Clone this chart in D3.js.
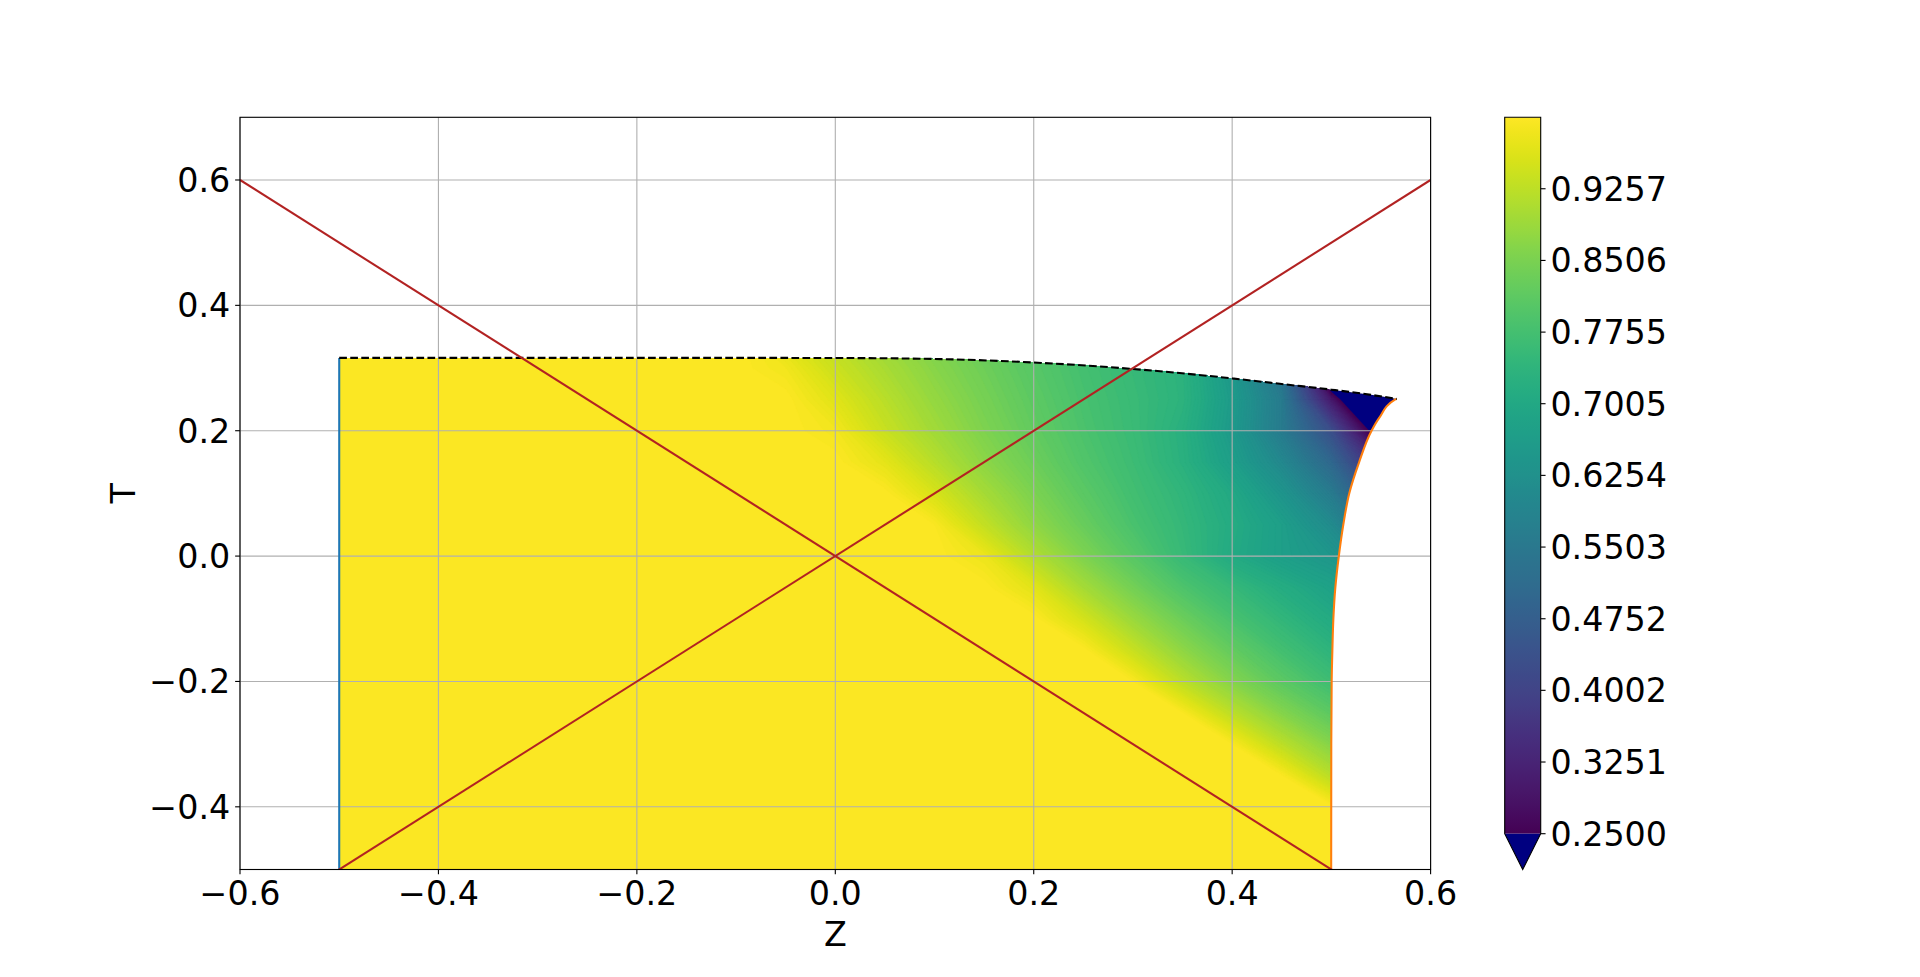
<!DOCTYPE html>
<html><head><meta charset="utf-8">
<script src="https://cdn.jsdelivr.net/npm/d3@7"></script>
<style>body{margin:0;background:#fff;} svg{display:block;} text{font-family:"DejaVu Sans";fill:#000;}</style>
</head><body><svg id="c" width="1920" height="977"></svg>
<script>
// ---------------- data ----------------
const xTicks = [-0.6, -0.4, -0.2, 0.0, 0.2, 0.4, 0.6];
const yTicks = [-0.4, -0.2, 0.0, 0.2, 0.4, 0.6];
const cbTicks = [0.2500, 0.3251, 0.4002, 0.4752, 0.5503, 0.6254, 0.7005, 0.7755, 0.8506, 0.9257];
const cbRange = [0.25, 1.00055];
const xDomain = [-0.6, 0.6];
const yDomain = [-0.5, 0.7];

// left boundary (blue)
const leftZ = [-0.5, -0.5];
const leftT = [-0.5, 0.3162];
// top boundary (black dashed)
const topZ = [-0.5, -0.3, -0.1, 0.0, 0.1, 0.2, 0.3, 0.4, 0.45, 0.5, 0.54, 0.5658];
const topT = [0.3162, 0.3162, 0.3162, 0.3160, 0.3145, 0.3088, 0.2985, 0.2835, 0.2745, 0.2655, 0.2572, 0.2506];
// right boundary (orange), bottom to top
const rightT = [-0.5, -0.3, -0.2, -0.15, -0.1, -0.05, 0.0, 0.05, 0.1, 0.15, 0.2, 0.22, 0.25, 0.2506];
const rightZ = [0.4998, 0.4999, 0.5003, 0.501, 0.502, 0.504, 0.5075, 0.512, 0.518, 0.528, 0.5405, 0.548, 0.5645, 0.5658];
// red reference lines T = -Z and T = Z
const lineA = [[-0.6, 0.6], [0.6, -0.6]];
const lineB = [[-0.6, -0.6], [0.6, 0.6]];

// sampled field (rows: T from top to bottom, columns: Z)
const gridZ = [-0.55, -0.5, -0.45, -0.4, -0.35, -0.3, -0.25, -0.2, -0.15, -0.1, -0.05, 0.0, 0.05, 0.1, 0.15, 0.2, 0.25, 0.3, 0.35, 0.4, 0.45, 0.5, 0.55, 0.6];
const gridT = [0.35, 0.3, 0.25, 0.2, 0.15, 0.1, 0.05, 0.0, -0.05, -0.1, -0.15, -0.2, -0.25, -0.3, -0.35, -0.4, -0.45, -0.5];
const field = [
 [1,1,1,1,1,1,1, 1,1,1,0.96,0.92,0.884,0.852,0.822,0.792,0.77,0.747,0.725,0.60,0.253,0.0,-0.2,-0.3],
 [1,1,1,1,1,1,1, 1,1,1,0.985,0.941,0.903,0.866,0.835,0.804,0.777,0.754,0.731,0.65,0.53,0.09,-0.3,-0.4],
 [1,1,1,1,1,1,1, 1,1,1,1,0.965,0.921,0.88,0.845,0.812,0.782,0.758,0.733,0.66,0.56,0.30,0.02,-0.3],
 [1,1,1,1,1,1,1, 1,1,1,1,0.987,0.938,0.895,0.855,0.82,0.787,0.76,0.725,0.655,0.56,0.43,0.193,-0.1],
 [1,1,1,1,1,1,1, 1,1,1,1,1,0.97,0.919,0.871,0.833,0.795,0.765,0.728,0.67,0.60,0.50,0.33,0.10],
 [1,1,1,1,1,1,1, 1,1,1,1,1,1,0.955,0.90,0.852,0.81,0.773,0.742,0.70,0.64,0.56,0.42,0.23],
 [1,1,1,1,1,1,1, 1,1,1,1,1,1,0.995,0.932,0.874,0.828,0.784,0.749,0.71,0.67,0.61,0.50,0.35],
 [1,1,1,1,1,1,1, 1,1,1,1,1,1,1,0.98,0.914,0.855,0.805,0.755,0.705,0.67,0.645,0.58,0.50],
 [1,1,1,1,1,1,1, 1,1,1,1,1,1,1,1,0.967,0.899,0.842,0.79,0.752,0.713,0.68,0.64,0.60],
 [1,1,1,1,1,1,1, 1,1,1,1,1,1,1,1,1,0.951,0.886,0.832,0.783,0.744,0.706,0.67,0.63],
 [1,1,1,1,1,1,1, 1,1,1,1,1,1,1,1,1,1,0.937,0.873,0.821,0.775,0.736,0.70,0.66],
 [1,1,1,1,1,1,1, 1,1,1,1,1,1,1,1,1,1,0.995,0.924,0.862,0.811,0.767,0.73,0.69],
 [1,1,1,1,1,1,1, 1,1,1,1,1,1,1,1,1,1,1,0.995,0.924,0.862,0.811,0.77,0.73],
 [1,1,1,1,1,1,1, 1,1,1,1,1,1,1,1,1,1,1,1,0.995,0.924,0.862,0.81,0.77],
 [1,1,1,1,1,1,1, 1,1,1,1,1,1,1,1,1,1,1,1,1,0.996,0.92,0.86,0.81],
 [1,1,1,1,1,1,1, 1,1,1,1,1,1,1,1,1,1,1,1,1,1,1,0.935,0.87],
 [1,1,1,1,1,1,1, 1,1,1,1,1,1,1,1,1,1,1,1,1,1,1,1,0.935],
 [1,1,1,1,1,1,1, 1,1,1,1,1,1,1,1,1,1,1,1,1,1,1,1,1]
];

// ---------------- layout ----------------
const L = 240, R = 1430.6, TOP = 117.3, BOT = 869.5;
const cbL = 1504.7, cbR = 1540.7, cbTop = 117.3, cbBot = 833.7, cbTip = 869.5;
const FS = 33.33;
const UNDER = "#000080";
const LW = 2.08;

const svg = d3.select("#c");
const x = d3.scaleLinear(xDomain, [L, R]);
const y = d3.scaleLinear(yDomain, [BOT, TOP]);
const norm = d3.scaleLinear(cbRange, [0, 1]);
const color = v => d3.interpolateViridis(Math.max(0, Math.min(1, norm(v))));

const defs = svg.append("defs");
defs.append("clipPath").attr("id", "axclip")
  .append("rect").attr("x", L).attr("y", TOP).attr("width", R - L).attr("height", BOT - TOP);

// boundary paths
const topPts = topZ.map((z, i) => [x(z), y(topT[i])]);
const rightPts = rightZ.map((z, i) => [x(z), y(rightT[i])]);
const leftPts = leftZ.map((z, i) => [x(z), y(leftT[i])]);
const topPath = d3.line().curve(d3.curveMonotoneX)(topPts);
const rightPath = d3.line().curve(d3.curveMonotoneY)(rightPts.slice().reverse());
const rightPathUp = d3.line().curve(d3.curveMonotoneY)(rightPts);
const regionPath = `M${leftPts[0][0]},${leftPts[0][1]}L` + topPath.slice(1) + "L" + rightPath.slice(1) + "Z";
defs.append("clipPath").attr("id", "regclip").append("path").attr("d", regionPath);

// ---------------- field ----------------
const gField = svg.append("g").attr("clip-path", "url(#regclip)");
gField.append("path").attr("d", regionPath).attr("fill", color(1.0));

const n = gridZ.length, m = gridT.length;
const dz = gridZ[1] - gridZ[0], dt = gridT[0] - gridT[1];
const values = field.flat();
const step = 0.005;
const levels = [-10].concat(d3.range(cbRange[0], 1.0, step));
const contours = d3.contours().size([n, m]).thresholds(levels)(values);
const proj = d3.geoTransform({
  point: function(cx, cy) {
    const z = gridZ[0] + (cx - 0.5) * dz;
    const t = gridT[0] - (cy - 0.5) * dt;
    this.stream.point(x(z), y(t));
  }
});
const gpath = d3.geoPath(proj);
gField.selectAll("path.band").data(contours).join("path")
  .attr("class", "band")
  .attr("d", gpath)
  .attr("fill", d => d.value < cbRange[0] ? UNDER : color(d.value + step / 2))
  .attr("stroke", d => d.value < cbRange[0] ? UNDER : color(d.value + step / 2))
  .attr("stroke-width", 0.3);

// ---------------- grid ----------------
const gGrid = svg.append("g").attr("stroke", "#b0b0b0").attr("stroke-width", 1.11);
xTicks.forEach(v => gGrid.append("line").attr("x1", x(v)).attr("x2", x(v)).attr("y1", TOP).attr("y2", BOT));
yTicks.forEach(v => gGrid.append("line").attr("y1", y(v)).attr("y2", y(v)).attr("x1", L).attr("x2", R));

// ---------------- lines ----------------
const gLines = svg.append("g").attr("clip-path", "url(#axclip)").attr("fill", "none");
const ln = d3.line().x(d => x(d[0])).y(d => y(d[1]));
gLines.append("path").attr("d", d3.line()(leftPts))
  .attr("stroke", "#1f77b4").attr("stroke-width", LW);
gLines.append("path").attr("d", rightPathUp)
  .attr("stroke", "#ff7f0e").attr("stroke-width", LW);
gLines.append("path").attr("d", topPath)
  .attr("stroke", "#000").attr("stroke-width", LW).attr("stroke-dasharray", "7.7,3.33");
[lineA, lineB].forEach(l => gLines.append("path").attr("d", ln(l))
  .attr("stroke", "#b22222").attr("stroke-width", LW));

// ---------------- axes ----------------
const fmt1 = d3.format(".1f");
svg.append("rect").attr("x", L).attr("y", TOP).attr("width", R - L).attr("height", BOT - TOP)
  .attr("fill", "none").attr("stroke", "#000").attr("stroke-width", 1.11);
const gAx = svg.append("g");
xTicks.forEach(v => {
  gAx.append("line").attr("x1", x(v)).attr("x2", x(v)).attr("y1", BOT).attr("y2", BOT + 4.86)
    .attr("stroke", "#000").attr("stroke-width", 1.11);
  gAx.append("text").attr("x", x(v)).attr("y", BOT + 9.72).attr("dy", "0.76em")
    .attr("text-anchor", "middle").attr("font-size", FS).text(fmt1(v));
});
yTicks.forEach(v => {
  gAx.append("line").attr("x1", L - 4.86).attr("x2", L).attr("y1", y(v)).attr("y2", y(v))
    .attr("stroke", "#000").attr("stroke-width", 1.11);
  gAx.append("text").attr("x", L - 9.72).attr("y", y(v)).attr("dy", "0.36em")
    .attr("text-anchor", "end").attr("font-size", FS).text(fmt1(v));
});
gAx.append("text").attr("x", (L + R) / 2).attr("y", 946).attr("text-anchor", "middle")
  .attr("font-size", FS).text("Z");
gAx.append("text").attr("transform", `translate(135,${(TOP + BOT) / 2}) rotate(-90)`)
  .attr("text-anchor", "middle").attr("font-size", FS).text("T");

// ---------------- colorbar ----------------
const cbY = d3.scaleLinear(cbRange, [cbBot, cbTop]);
const grad = defs.append("linearGradient").attr("id", "cbgrad")
  .attr("x1", 0).attr("y1", 1).attr("x2", 0).attr("y2", 0);
d3.range(0, 1.0001, 0.02).forEach(f => grad.append("stop").attr("offset", f)
  .attr("stop-color", d3.interpolateViridis(f)));
svg.append("rect").attr("x", cbL).attr("y", cbTop).attr("width", cbR - cbL).attr("height", cbBot - cbTop)
  .attr("fill", "url(#cbgrad)");
svg.append("path").attr("d", `M${cbL},${cbBot}L${cbR},${cbBot}L${(cbL + cbR) / 2},${cbTip}Z`)
  .attr("fill", UNDER);
svg.append("path").attr("d", `M${cbL},${cbTop}L${cbR},${cbTop}L${cbR},${cbBot}L${(cbL + cbR) / 2},${cbTip}L${cbL},${cbBot}Z`)
  .attr("fill", "none").attr("stroke", "#000").attr("stroke-width", 1.11);
const fmt4 = d3.format(".4f");
cbTicks.forEach(v => {
  svg.append("line").attr("x1", cbR).attr("x2", cbR + 4.86).attr("y1", cbY(v)).attr("y2", cbY(v))
    .attr("stroke", "#000").attr("stroke-width", 1.11);
  svg.append("text").attr("x", cbR + 9.72).attr("y", cbY(v)).attr("dy", "0.36em")
    .attr("font-size", FS).text(fmt4(v));
});
</script></body></html>
